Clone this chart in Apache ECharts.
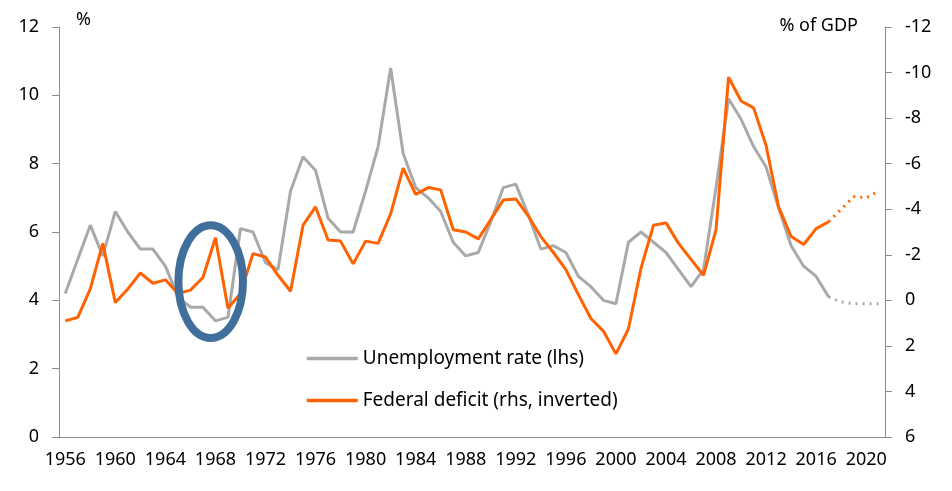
<!DOCTYPE html>
<html>
<head>
<meta charset="utf-8">
<title>Unemployment rate and federal deficit</title>
<script src="https://cdn.jsdelivr.net/npm/echarts@6/dist/echarts.min.js"></script>
<style>
    html, body { margin: 0; padding: 0; background: #fff; }
    #chart { width: 952px; height: 491px; }
</style>
</head>
<body>
<div id="chart"></div>
<script>

// Data
// ------------------------------

var years = [];
for (var y = 1956; y <= 2021; y++) years.push(String(y));

// Unemployment rate, % (1956-2017)
var unemployment = [4.2, 5.2, 6.2, 5.3, 6.6, 6.0, 5.5, 5.5, 5.0, 4.1,
    3.8, 3.8, 3.4, 3.5, 6.1, 6.0, 5.1, 4.9, 7.2, 8.2,
    7.8, 6.4, 6.0, 6.0, 7.2, 8.5, 10.8, 8.3, 7.3, 7.0,
    6.6, 5.7, 5.3, 5.4, 6.3, 7.3, 7.4, 6.5, 5.5, 5.6,
    5.4, 4.7, 4.4, 4.0, 3.9, 5.7, 6.0, 5.7, 5.4, 4.9,
    4.4, 4.9, 7.3, 9.9, 9.3, 8.5, 7.9, 6.7, 5.6, 5.0,
    4.7, 4.1];
// Unemployment projection (2017-2021)
var unemploymentProj = [4.1, 3.95, 3.9, 3.9, 3.9];

// Federal budget balance, % of GDP (1956-2017)
var balance = [0.9, 0.75, -0.5, -2.5, 0.1, -0.5, -1.2, -0.75, -0.9, -0.3,
    -0.45, -1.0, -2.75, 0.35, -0.3, -2.05, -1.9, -1.1, -0.4, -3.3,
    -4.1, -2.65, -2.6, -1.6, -2.6, -2.5, -3.8, -5.8, -4.65, -4.95,
    -4.85, -3.1, -3.0, -2.7, -3.55, -4.4, -4.45, -3.7, -2.8, -2.1,
    -1.35, -0.25, 0.8, 1.35, 2.35, 1.25, -1.4, -3.3, -3.4, -2.5,
    -1.8, -1.1, -3.1, -9.8, -8.75, -8.45, -6.8, -4.1, -2.8, -2.45,
    -3.15, -3.45];
// Balance projection (2017-2021)
var balanceProj = [-3.45, -4.0, -4.55, -4.5, -4.8];

// Highlighted period (circled on the chart)
var highlightYears = ['1965', '1970'];
var highlightRates = [6.2, 2.9];

var projStart = years.indexOf('2017');

function padProjection(values) {
    var out = [];
    for (var i = 0; i < projStart; i++) out.push(null);
    return out.concat(values);
}


// Chart
// ------------------------------

var FONT = '"Noto Sans", Arial, sans-serif';
var AXIS_GREY = '#8c8c8c';
var GREY = '#a9a9a9';
var ORANGE = '#ff6200';

var chart = echarts.init(document.getElementById('chart'));

chart.setOption({
    animation: false,
    textStyle: { fontFamily: FONT, fontSize: 18, color: '#000' },

    grid: { left: 59, right: 67, top: 27, bottom: 54 },

    legend: {
        orient: 'vertical',
        left: 305,
        top: 349,
        padding: 0,
        itemWidth: 51,
        itemHeight: 18,
        itemGap: 23,
        itemStyle: { opacity: 0 },
        lineStyle: { width: 3.5 },
        data: ['Unemployment rate (lhs)', 'Federal deficit (rhs, inverted)'],
        textStyle: { fontFamily: FONT, fontSize: 19, color: '#000' }
    },

    graphic: [
        { type: 'text', left: 76, top: 11, style: { text: '%', font: '18px ' + FONT, fill: '#000' } },
        { type: 'text', right: 94, top: 17, style: { text: '% of GDP', font: '18px ' + FONT, fill: '#000' } }
    ],

    xAxis: {
        type: 'category',
        data: years,
        boundaryGap: true,
        axisLine: { lineStyle: { color: AXIS_GREY, width: 1 } },
        axisTick: { interval: 0, length: 7, lineStyle: { color: AXIS_GREY } },
        axisLabel: { interval: 3, margin: 14, color: '#000', fontSize: 18, fontFamily: FONT },
        splitLine: { show: false }
    },

    yAxis: [{
        type: 'value',
        min: 0,
        max: 12,
        interval: 2,
        position: 'left',
        axisLine: { show: true, lineStyle: { color: AXIS_GREY } },
        axisTick: { show: true, length: 7, lineStyle: { color: AXIS_GREY } },
        axisLabel: { margin: 20, color: '#000', fontSize: 18, fontFamily: FONT },
        splitLine: { show: false }
    }, {
        type: 'value',
        min: -12,
        max: 6,
        interval: 2,
        inverse: true,
        position: 'right',
        axisLine: { show: true, lineStyle: { color: AXIS_GREY } },
        axisTick: { show: true, length: 7, lineStyle: { color: AXIS_GREY } },
        axisLabel: { margin: 20, color: '#000', fontSize: 18, fontFamily: FONT },
        splitLine: { show: false }
    }],

    series: [
        {
            name: 'Unemployment rate (lhs)',
            type: 'line',
            yAxisIndex: 0,
            symbol: 'none',
            data: unemployment,
            lineStyle: { color: GREY, width: 3 },
            itemStyle: { color: GREY },
            z: 2
        },
        {
            name: 'unemployment projection',
            type: 'line',
            yAxisIndex: 0,
            symbol: 'none',
            data: padProjection(unemploymentProj),
            lineStyle: { color: GREY, width: 3, type: [2, 5] },
            z: 2
        },
        {
            name: 'Federal deficit (rhs, inverted)',
            type: 'line',
            yAxisIndex: 1,
            symbol: 'none',
            data: balance,
            lineStyle: { color: ORANGE, width: 3 },
            itemStyle: { color: ORANGE },
            z: 3
        },
        {
            name: 'deficit projection',
            type: 'line',
            yAxisIndex: 1,
            symbol: 'none',
            data: padProjection(balanceProj),
            lineStyle: { color: ORANGE, width: 3, type: [2, 5] },
            z: 3
        },
        {
            name: 'highlight',
            type: 'custom',
            yAxisIndex: 0,
            silent: true,
            z: 5,
            data: [[0]],
            renderItem: function(params, api) {
                var p0 = api.coord([years.indexOf(highlightYears[0]), highlightRates[0]]);
                var p1 = api.coord([years.indexOf(highlightYears[1]), highlightRates[1]]);
                return {
                    type: 'ellipse',
                    shape: {
                        cx: (p0[0] + p1[0]) / 2 + 1.5,
                        cy: (p0[1] + p1[1]) / 2,
                        rx: (p1[0] - p0[0]) / 2 + 1,
                        ry: (p1[1] - p0[1]) / 2
                    },
                    style: { fill: null, stroke: '#416f9c', lineWidth: 8 }
                };
            }
        }
    ]
});
</script>
</body>
</html>
